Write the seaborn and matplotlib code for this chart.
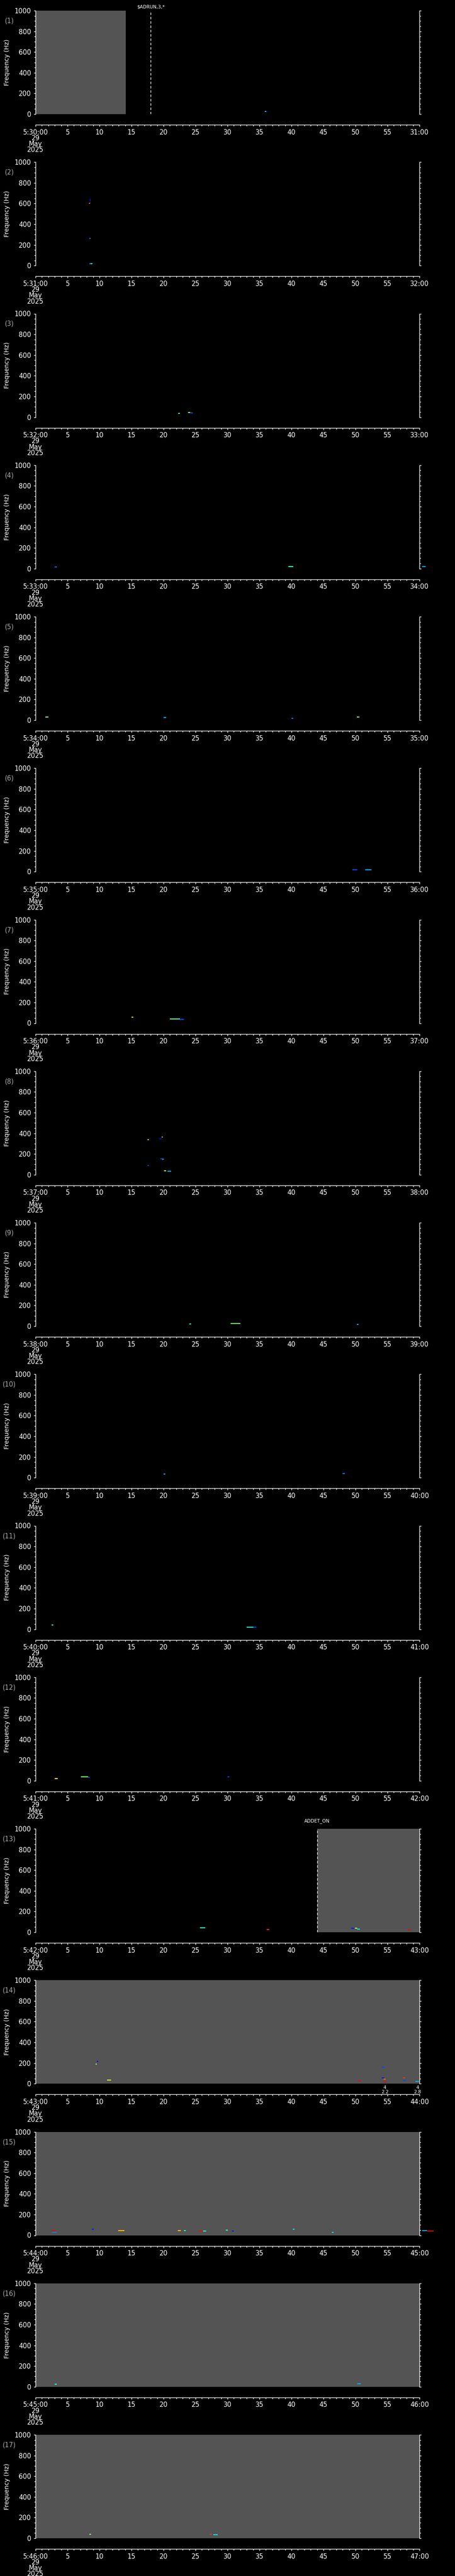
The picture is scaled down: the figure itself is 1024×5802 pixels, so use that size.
import matplotlib
matplotlib.use('Agg')
import matplotlib.pyplot as plt
import seaborn as sns
import numpy as np
from matplotlib.ticker import MultipleLocator

# ========== data ==========
n_panels = 17
start_minutes = [30 + i for i in range(n_panels)]          # 5:30 ... 5:46
freq_ticks = [0, 200, 400, 600, 800, 1000]
time_ticks = [0, 5, 10, 15, 20, 25, 30, 35, 40, 45, 50, 55, 60]

# gray (no-data / flagged) spans per panel: panel, t_start, t_end
gray_panel = [0, 12, 13, 14, 15, 16]
gray_t0 = [0.0, 44.0, 0.0, 0.0, 0.0, 0.0]
gray_t1 = [14.1, 60.0, 60.0, 60.0, 60.0, 60.0]

# event markers (dashed lines with labels)
event_panel = [0, 12]
event_t = [18.0, 44.0]
event_text = ['$ADRUN,3,*', 'ADDET_ON']
event_dy = [8, 17]  # px above the plot top

# spectral blips: panel, t_start, t_end, freq (Hz), level (0..1)
blip_panel = [0, 0,
              1, 1, 1, 1, 1, 1, 1,
              2, 2, 2,
              3, 3, 3,
              4, 4, 4, 4,
              5, 5,
              6, 6, 6,
              7, 7, 7, 7, 7, 7, 7, 7,
              8, 8, 8,
              9, 9,
              10, 10, 10,
              11, 11, 11, 11,
              12, 12, 12, 12, 12, 12,
              13, 13, 13, 13, 13, 13, 13, 13, 13, 13, 13,
              14, 14, 14, 14, 14, 14, 14, 14, 14, 14, 14, 14, 14, 14,
              15, 15,
              16, 16, 16]
blip_t0 = [35.8, 36.0,
           8.3, 8.45, 8.45, 8.45, 8.4, 8.4, 8.6,
           22.3, 23.8, 24.2,
           3.0, 39.5, 60.4,
           1.5, 20.0, 40.0, 50.2,
           49.5, 51.5,
           15.0, 21.0, 22.6,
           17.5, 17.5, 19.3, 19.7, 19.8, 19.5, 20.1, 20.6,
           24.0, 30.5, 50.2,
           20.0, 48.0,
           2.5, 33.0, 34.0,
           3.0, 7.1, 8.2, 30.0,
           25.7, 36.1, 49.3, 49.9, 50.3, 58.2,
           9.4, 9.6, 11.2, 50.4, 54.2, 54.1, 54.4, 54.4, 57.4, 57.4, 59.4,
           2.6, 2.6, 8.8, 12.9, 22.2, 23.2, 25.5, 26.2, 29.7, 30.7, 40.2, 46.3, 60.4, 61.2,
           50.3, 3.0,
           8.4, 27.2, 27.8]
blip_t1 = [36.0, 36.2,
           8.55, 8.6, 8.6, 8.6, 8.6, 8.7, 8.9,
           22.6, 24.2, 24.6,
           3.3, 40.3, 61.0,
           2.0, 20.4, 40.3, 50.6,
           50.3, 52.5,
           15.3, 22.6, 23.2,
           17.7, 17.7, 19.7, 19.85, 20.0, 19.9, 20.4, 21.2,
           24.3, 32.0, 50.5,
           20.3, 48.3,
           2.8, 34.0, 34.5,
           3.5, 8.2, 8.5, 30.3,
           26.5, 36.5, 49.8, 50.3, 50.7, 58.6,
           9.6, 9.8, 11.8, 50.8, 54.6, 54.5, 54.7, 54.8, 57.8, 57.9, 59.9,
           3.2, 3.3, 9.1, 13.9, 22.7, 23.5, 26.1, 26.7, 30.1, 31.0, 40.5, 46.6, 61.2, 62.2,
           50.8, 3.3,
           8.7, 27.5, 28.5]
blip_f = [25, 25,
          603, 612, 626, 640, 265, 20, 20,
          35, 45, 42,
          18, 20, 20,
          30, 25, 18, 30,
          20, 20,
          60, 40, 38,
          339, 90, 348, 365, 150, 153, 39, 33,
          20, 25, 18,
          35, 40,
          40, 20, 20,
          21, 38, 35, 38,
          43, 26, 40, 38, 32, 21,
          190, 215, 34, 26, 159, 56, 43, 17, 55, 30, 22,
          47, 26, 56, 47, 43, 46, 42, 40, 50, 39, 60, 27, 46, 39,
          30, 25,
          38, 38, 33]
blip_lvl = [0.4, 0.2,
            0.8, 0.15, 0.15, 0.15, 0.25, 0.25, 0.4,
            0.4, 0.5, 0.2,
            0.25, 0.4, 0.3,
            0.5, 0.3, 0.25, 0.5,
            0.2, 0.3,
            0.6, 0.45, 0.2,
            0.6, 0.2, 0.1, 0.65, 0.4, 0.2, 0.6, 0.3,
            0.4, 0.5, 0.3,
            0.3, 0.25,
            0.4, 0.4, 0.2,
            0.65, 0.5, 0.2, 0.2,
            0.4, 0.85, 0.15, 0.55, 0.35, 0.9,
            0.5, 0.1, 0.6, 0.9, 0.2, 0.15, 0.8, 0.9, 0.85, 0.2, 0.3,
            0.9, 0.25, 0.15, 0.7, 0.7, 0.4, 0.9, 0.4, 0.4, 0.15, 0.35, 0.35, 0.3, 0.9,
            0.3, 0.4,
            0.5, 0.85, 0.35]

# ========== style ==========
sns.set_theme(style='ticks', rc={
    'figure.facecolor': 'black', 'axes.facecolor': 'black',
    'axes.edgecolor': 'white', 'axes.labelcolor': 'white',
    'xtick.color': 'white', 'ytick.color': 'white', 'text.color': 'white',
    'axes.linewidth': 1.0,
})
plt.rcParams['font.family'] = ['DejaVu Sans']

W, H = 1024, 5802
fig = plt.figure(figsize=(W / 100, H / 100), dpi=100)
fig.patch.set_facecolor('black')

left_px, width_px = 80, 864
top0, step, plot_h = 24, 341.25, 233
jet = plt.get_cmap('jet')
gray = '#545454'

for i in range(n_panels):
    top = top0 + i * step
    ax = fig.add_axes([left_px / W, 1 - (top + plot_h) / H, width_px / W, plot_h / H])
    ax.set_facecolor('black')
    ax.set_xlim(0, 60)
    ax.set_ylim(0, 1000)

    for p, a, b in zip(gray_panel, gray_t0, gray_t1):
        if p == i:
            ax.axvspan(a, b, color=gray, lw=0, zorder=0)

    for p, a, b, f, lv in zip(blip_panel, blip_t0, blip_t1, blip_f, blip_lvl):
        if p == i:
            ax.hlines(f, a, b, colors=[jet(lv)], lw=1.6, clip_on=False, zorder=3)

    for p, t, txt, dy in zip(event_panel, event_t, event_text, event_dy):
        if p == i:
            ax.axvline(t, color='white', lw=1.0, ls=(0, (4, 3)), zorder=4)
            ax.annotate(txt, xy=(t, 1000), xycoords='data', xytext=(0, dy * 0.72),
                        textcoords='offset points', ha='center', va='center',
                        fontsize=7.5, color='white', annotation_clip=False)

    # spines
    ax.spines['top'].set_visible(False)
    ax.spines['bottom'].set_position(('outward', 24 * 0.72))
    for s in ['left', 'right', 'bottom']:
        ax.spines[s].set_color('white')
        ax.spines[s].set_linewidth(1.0)

    # y axis
    ax.set_yticks(freq_ticks)
    ax.set_yticklabels([str(v) for v in freq_ticks])
    ax.yaxis.set_minor_locator(MultipleLocator(50))
    ax.tick_params(axis='y', which='both', direction='out', left=True, right=True,
                   labelleft=True, labelright=False, colors='white', width=1.0)
    ax.tick_params(axis='y', which='major', length=3, pad=4, labelsize=10.5)
    ax.tick_params(axis='y', which='minor', length=2.2)
    ax.set_ylabel('Frequency (Hz)', fontsize=10, color='white')
    ax.yaxis.set_label_coords(-57 / width_px, 0.5)

    # x axis (time)
    m = start_minutes[i]
    xlabels = ['5:%02d:00\n29\nMay\n2025' % m] + [str(t) for t in time_ticks[1:-1]] + ['%02d:00' % (m + 1)]
    ax.set_xticks(time_ticks)
    ax.set_xticklabels(xlabels)
    ax.xaxis.set_minor_locator(MultipleLocator(1))
    ax.tick_params(axis='x', which='both', direction='out', colors='white', width=1.0)
    ax.tick_params(axis='x', which='major', length=3, pad=4, labelsize=10.5)
    ax.tick_params(axis='x', which='minor', length=2.5)
    for lbl in ax.get_xticklabels():
        lbl.set_linespacing(0.85)
        lbl.set_verticalalignment('top')

    # panel number
    fig.text(21 / W, 1 - (top + 23) / H, '(%d)' % (i + 1), color='#a8a8a8',
             fontsize=10.5, ha='center', va='center')

    if i == 13:
        for t, txt in zip([54.6, 59.7], ['4\n2.2', '4\n2.8']):
            ax.annotate(txt, xy=(t, 0), xytext=(0, -3), textcoords='offset points',
                        ha='center', va='top', fontsize=7.5, color='white',
                        linespacing=0.9, annotation_clip=False)

fig.savefig('out.png', dpi=100, facecolor='black')
